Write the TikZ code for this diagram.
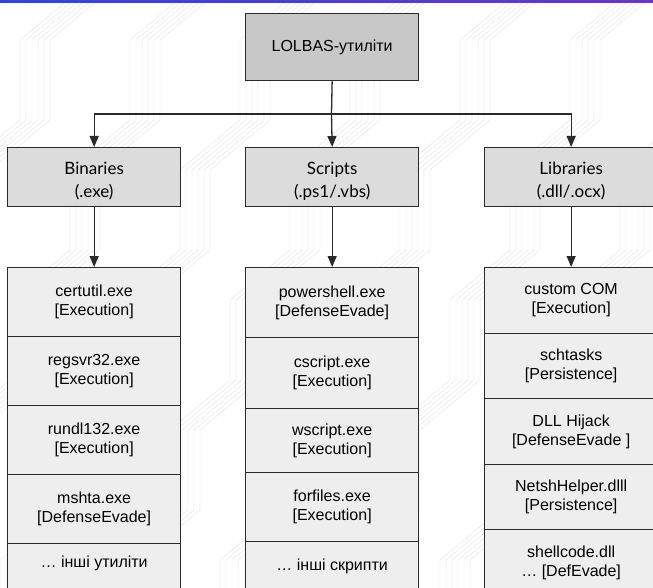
\documentclass[tikz,border=0pt]{standalone}
\usepackage{fontspec}
\setmainfont{Liberation Sans}
\newfontfamily\headfont{Lato}
\usetikzlibrary{arrows.meta}

\definecolor{edge}{HTML}{2A2A2A}
\definecolor{rootfill}{HTML}{C8C8C8}
\definecolor{headfill}{HTML}{DCDCDC}
\definecolor{cellfill}{HTML}{EEEEEE}
\definecolor{hatch}{HTML}{EEEEEE}
\definecolor{barleft}{HTML}{3346D3}
\definecolor{barright}{HTML}{6A38B8}

\tikzset{
  box/.style={draw=edge, line width=1.3pt, rectangle, align=center,
    inner sep=0pt, anchor=north west, minimum width=173pt},
  rootbox/.style={box, fill=rootfill, minimum height=67pt,
    font=\fontsize{16}{20}\selectfont},
  headbox/.style={box, fill=headfill, minimum height=59pt,
    font=\headfont\fontsize{17}{23}\selectfont},
  cellbox/.style={box, fill=cellfill, font=\fontsize{16}{19}\selectfont},
  tallcell/.style={box, fill=cellfill, font=\fontsize{16}{19}\selectfont,
    text height=12pt, text depth=60pt, inner ysep=#1},
  arr/.style={draw=edge, line width=1.3pt,
    -{Triangle[width=9pt,length=11pt]}},
  bgline/.style={draw=hatch, line width=0.8pt}
}
% strut that lowers the two-line category labels a little
\newcommand{\headstrut}{\raisebox{0pt}[20pt][0pt]{}}

\begin{document}
\begin{tikzpicture}[x=1pt,y=-1pt]
  \useasboundingbox (0,0) rectangle (653,588);

  % faint stepped background hatching
  \begin{scope}
    \clip (0,0) rectangle (653,588);
    \fill[white] (0,0) rectangle (653,588);
    \foreach \g in {-6,...,6}{
      \foreach \k in {0,...,5}{
        \draw[bgline] (\g*110+\k*6, 640)
          -- ++(0,-80) -- ++(60,-50)
          -- ++(0,-80) -- ++(60,-50)
          -- ++(0,-80) -- ++(60,-50)
          -- ++(0,-80) -- ++(60,-50)
          -- ++(0,-80) -- ++(60,-50)
          -- ++(0,-80);
      }
    }
    % coloured strip along the top edge
    \shade[left color=barleft, right color=barright] (0,0) rectangle (653,3);
  \end{scope}

  % root
  \node[rootbox] (root) at (245,13) {LOLBAS-утиліти};

  % categories
  \node[headbox] (bin) at (7,147)   {\headstrut Binaries\\(.exe)};
  \node[headbox] (scr) at (245,147) {\headstrut Scripts\\(.ps1/.vbs)};
  \node[headbox] (lib) at (484,147) {\headstrut Libraries\\(.dll/.ocx)};

  % binaries column
  \node[cellbox, minimum height=69pt] (b1) at (7,267) {certutil.exe\\{[}Execution{]}};
  \node[cellbox, minimum height=69pt] (b2) at (7,336) {regsvr32.exe\\{[}Execution{]}};
  \node[cellbox, minimum height=69pt] (b3) at (7,405) {rundl132.exe\\{[}Execution{]}};
  \node[cellbox, minimum height=69pt] (b4) at (7,474) {mshta.exe\\{[}DefenseEvade{]}};
  \node[tallcell=11.5pt] (b5) at (7,543) {… інші утиліти};

  % scripts column
  \node[cellbox, minimum height=70pt] (s1) at (245,267) {powershell.exe\\{[}DefenseEvade{]}};
  \node[cellbox, minimum height=71pt] (s2) at (245,337) {cscript.exe\\{[}Execution{]}};
  \node[cellbox, minimum height=64pt] (s3) at (245,408) {wscript.exe\\{[}Execution{]}};
  \node[cellbox, minimum height=69pt] (s4) at (245,472) {forfiles.exe\\{[}Execution{]}};
  \node[tallcell=16.5pt] (s5) at (245,541) {… інші скрипти};

  % libraries column
  \node[cellbox, minimum height=65.5pt] (l1) at (484,267)   {custom COM\\{[}Execution{]}};
  \node[cellbox, minimum height=65.5pt] (l2) at (484,332.5) {schtasks\\{[}Persistence{]}};
  \node[cellbox, minimum height=65.5pt] (l3) at (484,398)   {DLL Hijack\\{[}DefenseEvade {]}};
  \node[cellbox, minimum height=65.5pt] (l4) at (484,463.5) {NetshHelper.dlll\\{[}Persistence{]}};
  \node[cellbox, minimum height=65.5pt] (l5) at (484,529)   {shellcode.dll\\… {[}DefEvade{]}};

  % connectors
  \coordinate (fork) at (331.5,114);
  \draw[draw=edge, line width=1.3pt] (root.south) -- (fork);
  \draw[arr] (fork) -| (bin.north);
  \draw[arr] (fork) -- (scr.north);
  \draw[arr] (fork) -| (lib.north);
  \draw[arr] (bin.south) -- (b1.north);
  \draw[arr] (scr.south) -- (s1.north);
  \draw[arr] (lib.south) -- (l1.north);
\end{tikzpicture}
\end{document}
